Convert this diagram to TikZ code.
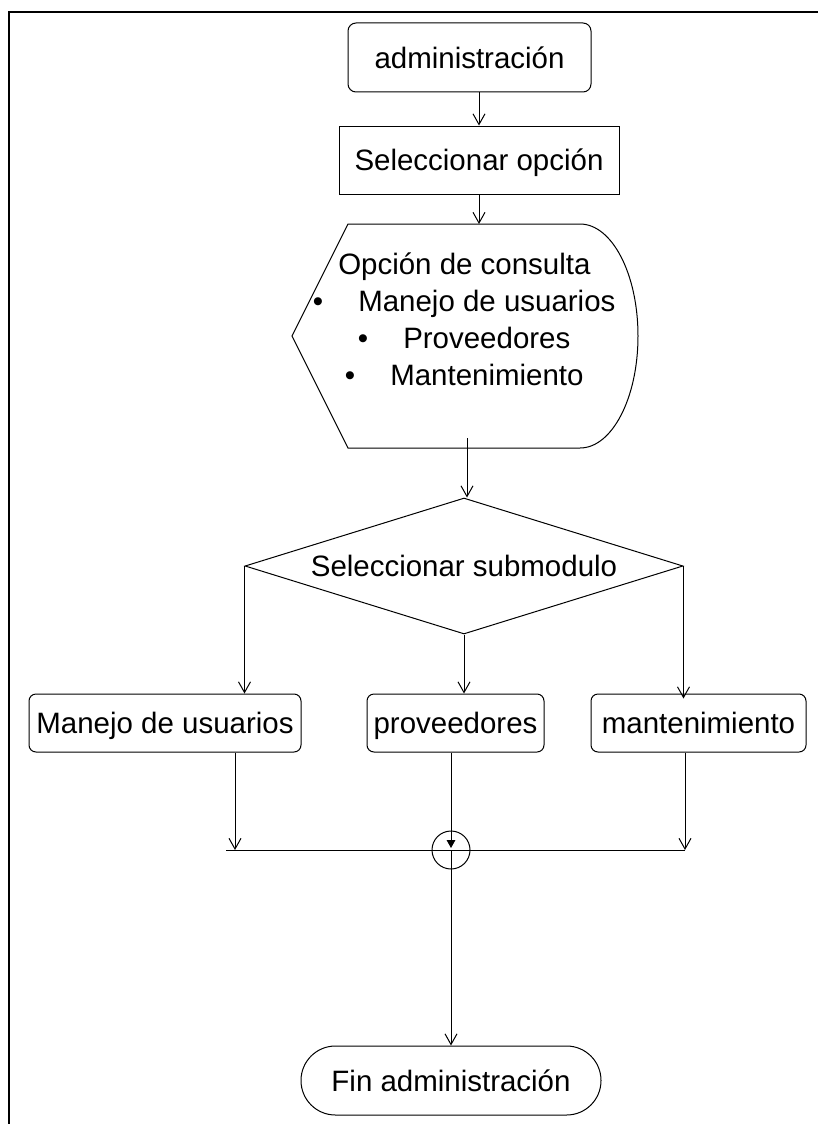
\documentclass[tikz,border=0pt]{standalone}
\usepackage{fontspec}
\setmainfont{Liberation Sans}
\usetikzlibrary{arrows.meta,shapes.geometric,calc}
\begin{document}
\begin{tikzpicture}[x=0.75pt,y=-0.75pt,
  every node/.style={font=\fontsize{22.1}{26}\selectfont},
  ln/.style={line width=0.75pt},
  arr/.style={ln,-{Straight Barb[length=8pt,width=9pt]}},
  box/.style={draw,ln,inner sep=0pt,text height=15.8pt,text depth=0pt,align=center},
  rbox/.style={box,rounded corners=5.25pt},
  txt/.style={anchor=base west,inner sep=0pt},
  bul/.style={anchor=base,inner sep=0pt}]
\useasboundingbox (0,0) rectangle (818,1124);
% frame
\draw[line width=1.5pt] (9,1124) -- (9,12) -- (818,12);
% nodes
\node[rbox,rounded corners=6pt,minimum width=182.25pt,minimum height=51.75pt] (admin) at (469.5,57.5) {administración};
\node[box,minimum width=210pt,minimum height=51pt] (sel) at (479,160) {Seleccionar opción};
% display shape
\draw[ln] (348,224) -- (580,224) .. controls (612,224) and (638,274) .. (638,336)
  .. controls (638,398) and (612,448) .. (580,448) -- (348,448) -- (292,336) -- cycle;
\coordinate (disptop) at (479,224);
\coordinate (dispout) at (467,438);
\node[txt] (t1) at (338,274) {Opción de consulta};
\node[bul] (b2) at (318,311) {•};
\node[txt] (t2) at (358,311) {Manejo de usuarios};
\node[bul] (b3) at (363,348) {•};
\node[txt] (t3) at (403,348) {Proveedores};
\node[bul] (b4) at (350,385) {•};
\node[txt] (t4) at (390,385) {Mantenimiento};
% decision
\node[draw,ln,diamond,inner sep=0pt,minimum width=328.5pt,minimum height=102pt,aspect=3.22,
  text height=15.8pt,text depth=0pt] (dec) at (464,566) {Seleccionar submodulo};
% sub-modules
\node[rbox,minimum width=204pt,minimum height=43.5pt] (man) at (165,723) {Manejo de usuarios};
\node[rbox,minimum width=132.75pt,minimum height=43.5pt] (prov) at (455.5,723) {proveedores};
\node[rbox,minimum width=161.25pt,minimum height=43.5pt] (mant) at (698.5,723) {mantenimiento};
% junction
\node[draw,ln,circle,inner sep=0pt,minimum size=28.5pt] (jn) at (451,850) {};
\coordinate (bl) at (226,850);
\coordinate (br) at (685,850);
\coordinate (jl) at (235,850);
% end
\node[box,rounded corners=25.8pt,minimum width=225pt,minimum height=51.75pt] (fin) at (451,1080.5) {Fin administración};
% connectors
\draw[arr] (admin.south -| sel.north) -- (sel.north);
\draw[arr] (sel.south) -- (disptop);
\draw[arr] (dispout) -- (dispout |- dec.north);
\draw[arr] (dec.west) -- (dec.west |- man.north);
\draw[arr] (dec.south) -- (dec.south |- prov.north);
\draw[arr] (dec.east) -- ($(dec.east |- mant.north)+(0,5)$);
\draw[ln] (bl) -- (br);
\draw[arr] (man.south -| jl) -- (jl);
\draw[arr] (mant.south -| br) -- (br);
\draw[ln,-{Triangle[length=6pt,width=6.5pt]}] (prov.south -| jn) -- ($(jn.center)+(0,-2)$);
\draw[arr] (jn.center) -- (fin.north);
\end{tikzpicture}
\end{document}
